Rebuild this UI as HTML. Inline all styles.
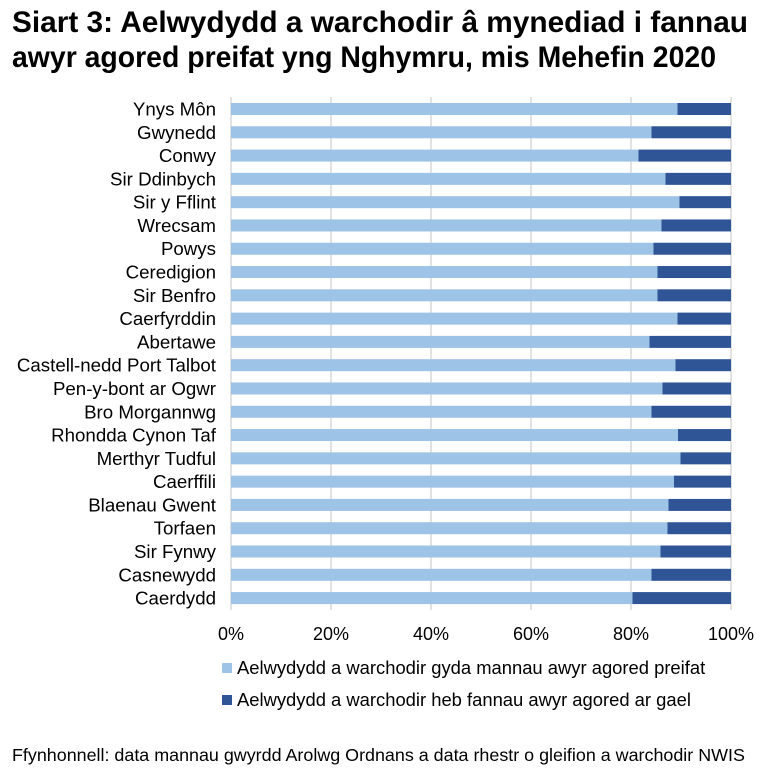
<!DOCTYPE html>
<html><head><meta charset="utf-8"><style>
body{margin:0;background:#fff;font-family:"Liberation Sans",sans-serif;}
</style></head><body>
<svg width="768" height="778" xmlns="http://www.w3.org/2000/svg" font-family="Liberation Sans, sans-serif">
<text x="12" y="32" font-size="29.8" font-weight="bold" fill="#000" textLength="736" lengthAdjust="spacingAndGlyphs">Siart 3: Aelwydydd a warchodir â mynediad i fannau</text>
<text x="12" y="67" font-size="29.8" font-weight="bold" fill="#000" textLength="704" lengthAdjust="spacingAndGlyphs">awyr agored preifat yng Nghymru, mis Mehefin 2020</text>
<g stroke="#d9d9d9" stroke-width="1.5">
<line x1="231" y1="97" x2="231" y2="610"/><line x1="331" y1="97" x2="331" y2="610"/><line x1="431" y1="97" x2="431" y2="610"/><line x1="531" y1="97" x2="531" y2="610"/><line x1="631" y1="97" x2="631" y2="610"/><line x1="731" y1="97" x2="731" y2="610"/>
</g>
<g id="bars"></g>
<g font-size="18" fill="#000" text-anchor="middle">
<text x="231" y="640">0%</text><text x="331" y="640">20%</text><text x="431" y="640">40%</text><text x="531" y="640">60%</text><text x="631" y="640">80%</text><text x="731" y="640">100%</text>
</g>
<rect x="222" y="663" width="10" height="10" fill="#9dc3e6"/>
<text x="237" y="674" font-size="18.4">Aelwydydd a warchodir gyda mannau awyr agored preifat</text>
<rect x="222" y="695" width="10" height="10" fill="#2f5597"/>
<text x="237" y="706" font-size="18.4">Aelwydydd a warchodir heb fannau awyr agored ar gael</text>
<text x="12" y="761" font-size="17.9">Ffynhonnell: data mannau gwyrdd Arolwg Ordnans a data rhestr o gleifion a warchodir NWIS</text>
<g id="lab" font-size="18.7" text-anchor="end"></g>
</svg>
<script>
var names=["Ynys Môn","Gwynedd","Conwy","Sir Ddinbych","Sir y Fflint","Wrecsam","Powys","Ceredigion","Sir Benfro","Caerfyrddin","Abertawe","Castell-nedd Port Talbot","Pen-y-bont ar Ogwr","Bro Morgannwg","Rhondda Cynon Taf","Merthyr Tudful","Caerffili","Blaenau Gwent","Torfaen","Sir Fynwy","Casnewydd","Caerdydd"];
var v=[89.3,84.1,81.5,86.9,89.7,86.1,84.5,85.3,85.3,89.3,83.7,88.9,86.3,84.1,89.4,89.9,88.6,87.5,87.3,85.9,84.1,80.3];
var ns="http://www.w3.org/2000/svg",b=document.getElementById("bars"),l=document.getElementById("lab");
for(var i=0;i<22;i++){var c=109+i*23.29;var s=231+v[i]*5;
var r=document.createElementNS(ns,"rect");r.setAttribute("x",231);r.setAttribute("y",c-6);r.setAttribute("width",s-231);r.setAttribute("height",12);r.setAttribute("fill","#9dc3e6");b.appendChild(r);
r=document.createElementNS(ns,"rect");r.setAttribute("x",s);r.setAttribute("y",c-6);r.setAttribute("width",731-s);r.setAttribute("height",12);r.setAttribute("fill","#2f5597");b.appendChild(r);
var t=document.createElementNS(ns,"text");t.setAttribute("x",216);t.setAttribute("y",c+6.5);t.textContent=names[i];l.appendChild(t);}
</script>
</body></html>
